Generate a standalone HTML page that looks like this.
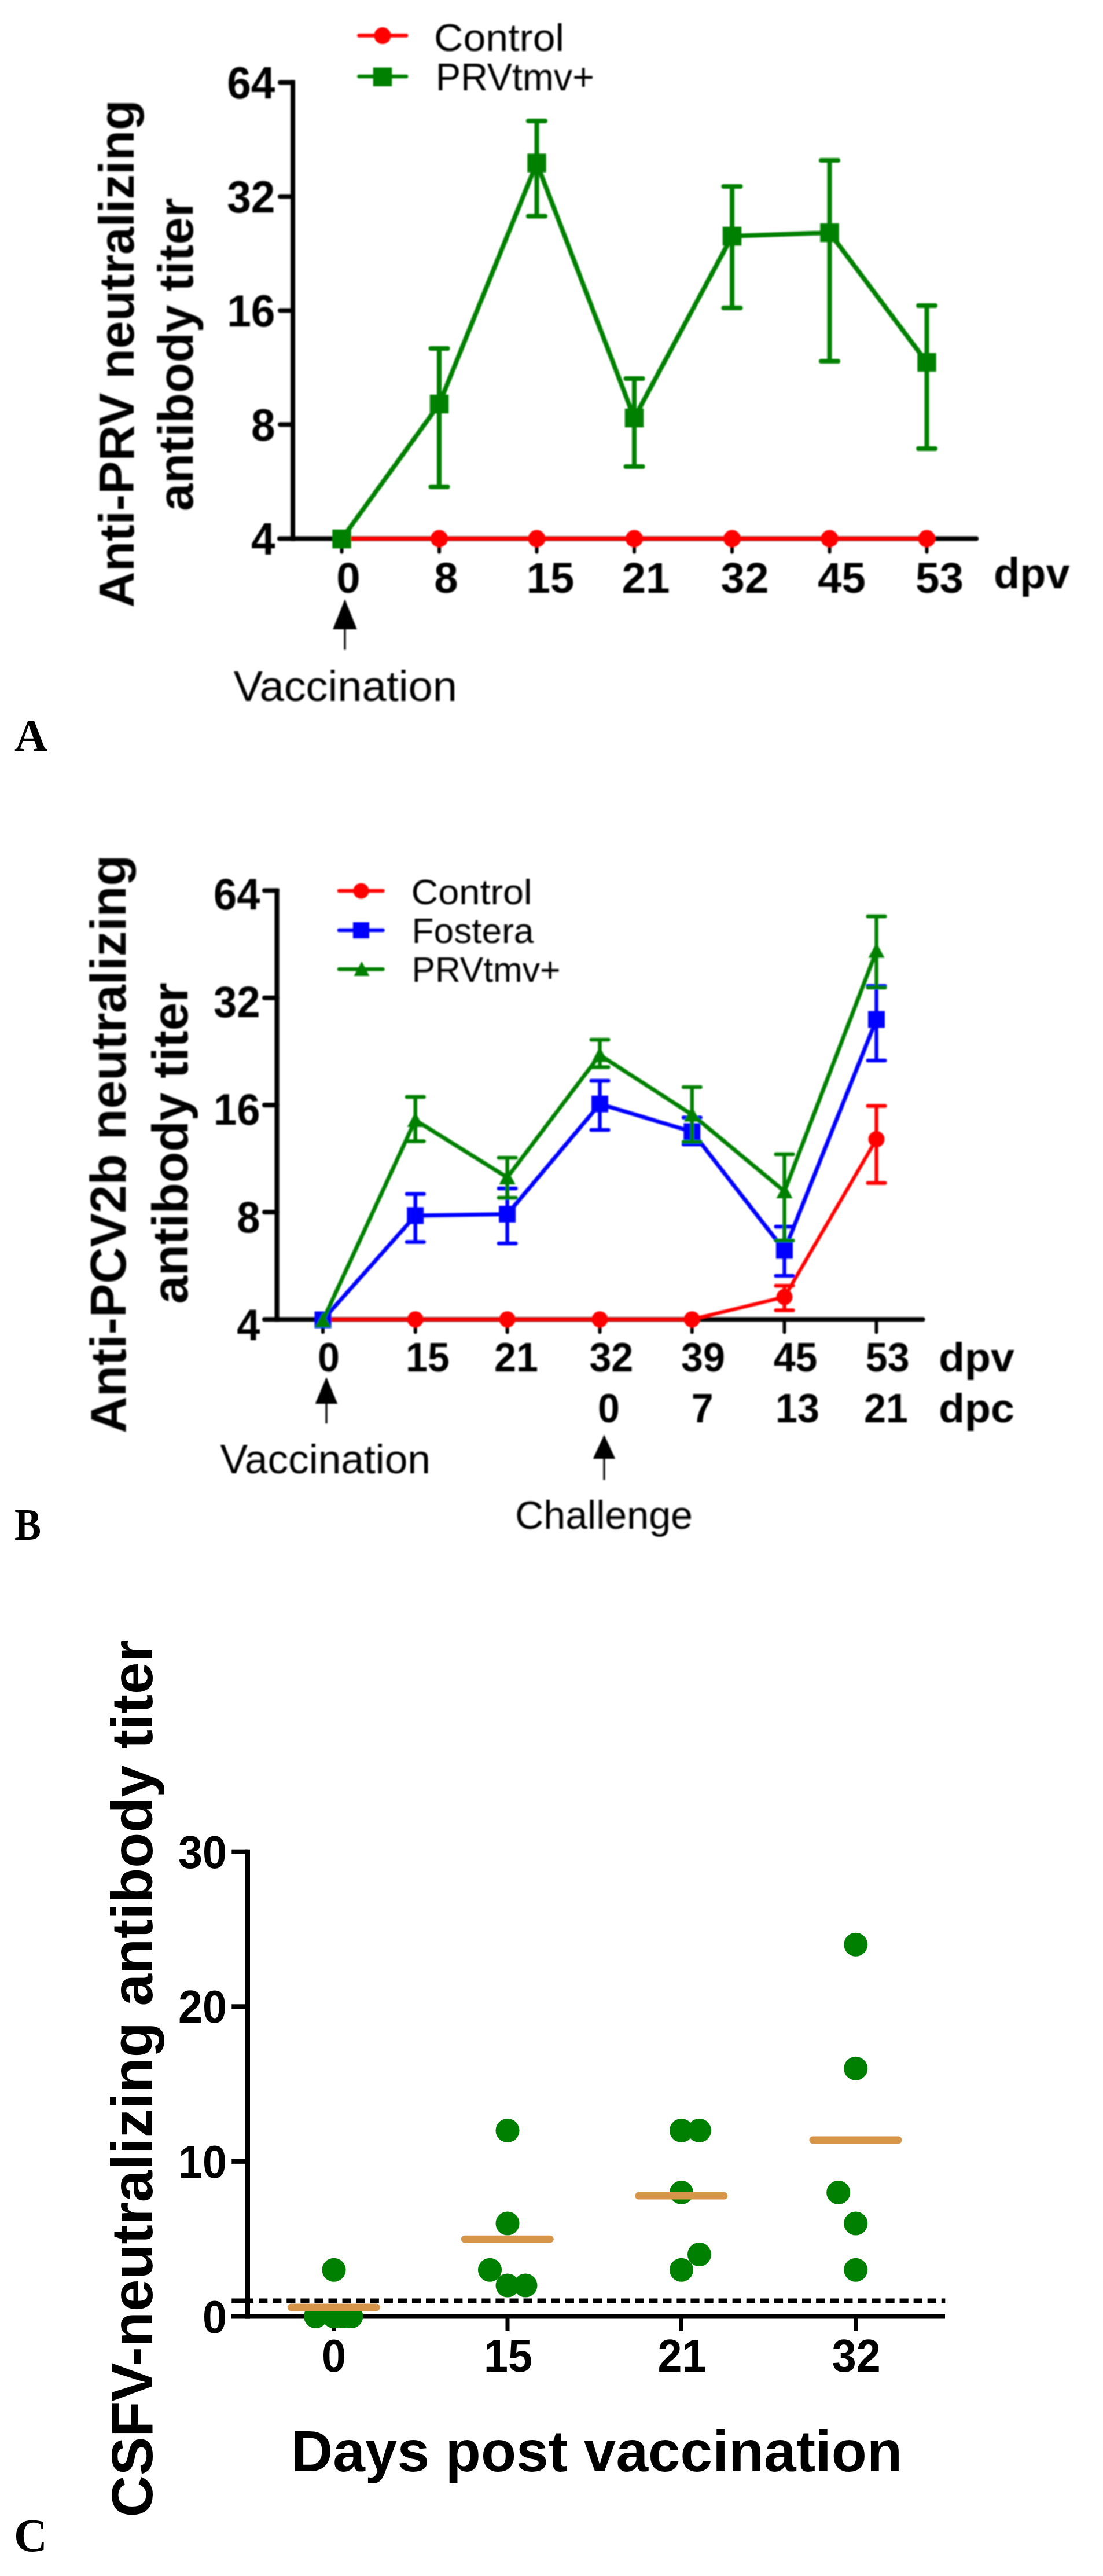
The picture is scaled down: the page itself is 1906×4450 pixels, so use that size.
<!DOCTYPE html>
<html><head><meta charset="utf-8"><title>Figure</title>
<style>html,body{margin:0;padding:0;background:#fff}svg{display:block}</style></head>
<body><svg width="1906" height="4450" viewBox="0 0 1906 4450">
<rect width="1906" height="4450" fill="#fff"/>
<defs><filter id="soft" x="-2%" y="-2%" width="104%" height="104%"><feGaussianBlur stdDeviation="0.9"/></filter><filter id="soft2" x="-2%" y="-2%" width="104%" height="104%"><feGaussianBlur stdDeviation="0.45"/></filter></defs>
<g filter="url(#soft)">
<line x1="506" y1="138.5" x2="506" y2="934.5" stroke="#000" stroke-width="8" stroke-linecap="butt"/>
<line x1="483" y1="930.5" x2="1687" y2="930.5" stroke="#000" stroke-width="8" stroke-linecap="round"/>
<line x1="484" y1="142.5" x2="506" y2="142.5" stroke="#000" stroke-width="8" stroke-linecap="round"/>
<line x1="484" y1="339.5" x2="506" y2="339.5" stroke="#000" stroke-width="8" stroke-linecap="round"/>
<line x1="484" y1="536.5" x2="506" y2="536.5" stroke="#000" stroke-width="8" stroke-linecap="round"/>
<line x1="484" y1="733.5" x2="506" y2="733.5" stroke="#000" stroke-width="8" stroke-linecap="round"/>
<text x="475.5" y="169.5" font-size="78" font-weight="bold" text-anchor="end" font-family="Liberation Sans, Arial, sans-serif" fill="#000" textLength="83.3" lengthAdjust="spacingAndGlyphs">64</text>
<text x="475.5" y="366.5" font-size="78" font-weight="bold" text-anchor="end" font-family="Liberation Sans, Arial, sans-serif" fill="#000" textLength="83.3" lengthAdjust="spacingAndGlyphs">32</text>
<text x="475.5" y="563.5" font-size="78" font-weight="bold" text-anchor="end" font-family="Liberation Sans, Arial, sans-serif" fill="#000" textLength="83.3" lengthAdjust="spacingAndGlyphs">16</text>
<text x="475.5" y="760.5" font-size="78" font-weight="bold" text-anchor="end" font-family="Liberation Sans, Arial, sans-serif" fill="#000" textLength="41.6" lengthAdjust="spacingAndGlyphs">8</text>
<text x="475.5" y="957.5" font-size="78" font-weight="bold" text-anchor="end" font-family="Liberation Sans, Arial, sans-serif" fill="#000" textLength="41.6" lengthAdjust="spacingAndGlyphs">4</text>
<line x1="590.5" y1="930.5" x2="590.5" y2="953.5" stroke="#000" stroke-width="6" stroke-linecap="round"/>
<line x1="759" y1="930.5" x2="759" y2="953.5" stroke="#000" stroke-width="6" stroke-linecap="round"/>
<line x1="927.5" y1="930.5" x2="927.5" y2="953.5" stroke="#000" stroke-width="6" stroke-linecap="round"/>
<line x1="1096" y1="930.5" x2="1096" y2="953.5" stroke="#000" stroke-width="6" stroke-linecap="round"/>
<line x1="1265" y1="930.5" x2="1265" y2="953.5" stroke="#000" stroke-width="6" stroke-linecap="round"/>
<line x1="1433.5" y1="930.5" x2="1433.5" y2="953.5" stroke="#000" stroke-width="6" stroke-linecap="round"/>
<line x1="1601.5" y1="930.5" x2="1601.5" y2="953.5" stroke="#000" stroke-width="6" stroke-linecap="round"/>
<text x="602" y="1024.3" font-size="74.5" font-weight="bold" text-anchor="middle" font-family="Liberation Sans, Arial, sans-serif" fill="#000" textLength="41.4" lengthAdjust="spacingAndGlyphs">0</text>
<text x="771" y="1024.3" font-size="74.5" font-weight="bold" text-anchor="middle" font-family="Liberation Sans, Arial, sans-serif" fill="#000" textLength="41.4" lengthAdjust="spacingAndGlyphs">8</text>
<text x="951" y="1024.3" font-size="74.5" font-weight="bold" text-anchor="middle" font-family="Liberation Sans, Arial, sans-serif" fill="#000" textLength="82.9" lengthAdjust="spacingAndGlyphs">15</text>
<text x="1116" y="1024.3" font-size="74.5" font-weight="bold" text-anchor="middle" font-family="Liberation Sans, Arial, sans-serif" fill="#000" textLength="82.9" lengthAdjust="spacingAndGlyphs">21</text>
<text x="1287" y="1024.3" font-size="74.5" font-weight="bold" text-anchor="middle" font-family="Liberation Sans, Arial, sans-serif" fill="#000" textLength="82.9" lengthAdjust="spacingAndGlyphs">32</text>
<text x="1454.5" y="1024.3" font-size="74.5" font-weight="bold" text-anchor="middle" font-family="Liberation Sans, Arial, sans-serif" fill="#000" textLength="82.9" lengthAdjust="spacingAndGlyphs">45</text>
<text x="1623.5" y="1024.3" font-size="74.5" font-weight="bold" text-anchor="middle" font-family="Liberation Sans, Arial, sans-serif" fill="#000" textLength="82.9" lengthAdjust="spacingAndGlyphs">53</text>
<text x="1717" y="1015.5" font-size="74" font-weight="bold" text-anchor="start" font-family="Liberation Sans, Arial, sans-serif" fill="#000">dpv</text>
<line x1="590.5" y1="930.5" x2="1601.5" y2="930.5" stroke="#ff0000" stroke-width="6.5" stroke-linecap="butt"/>
<circle cx="759" cy="930.5" r="15" fill="#ff0000"/>
<circle cx="927.5" cy="930.5" r="15" fill="#ff0000"/>
<circle cx="1096" cy="930.5" r="15" fill="#ff0000"/>
<circle cx="1265" cy="930.5" r="15" fill="#ff0000"/>
<circle cx="1433.5" cy="930.5" r="15" fill="#ff0000"/>
<circle cx="1601.5" cy="930.5" r="15" fill="#ff0000"/>
<polyline points="590.5,931 759,698 927.5,281.5 1096,722 1265,408 1433.5,402 1601.5,626" fill="none" stroke="#008000" stroke-width="8" stroke-linejoin="round"/>
<rect x="574.25" y="914.75" width="32.5" height="32.5" fill="#008000"/>
<line x1="759" y1="602" x2="759" y2="841" stroke="#008000" stroke-width="8" stroke-linecap="butt"/>
<line x1="744.5" y1="602" x2="773.5" y2="602" stroke="#008000" stroke-width="8" stroke-linecap="round"/>
<line x1="744.5" y1="841" x2="773.5" y2="841" stroke="#008000" stroke-width="8" stroke-linecap="round"/>
<rect x="742.75" y="681.75" width="32.5" height="32.5" fill="#008000"/>
<line x1="927.5" y1="209" x2="927.5" y2="373.5" stroke="#008000" stroke-width="8" stroke-linecap="butt"/>
<line x1="913.0" y1="209" x2="942.0" y2="209" stroke="#008000" stroke-width="8" stroke-linecap="round"/>
<line x1="913.0" y1="373.5" x2="942.0" y2="373.5" stroke="#008000" stroke-width="8" stroke-linecap="round"/>
<rect x="911.25" y="265.25" width="32.5" height="32.5" fill="#008000"/>
<line x1="1096" y1="654" x2="1096" y2="806" stroke="#008000" stroke-width="8" stroke-linecap="butt"/>
<line x1="1081.5" y1="654" x2="1110.5" y2="654" stroke="#008000" stroke-width="8" stroke-linecap="round"/>
<line x1="1081.5" y1="806" x2="1110.5" y2="806" stroke="#008000" stroke-width="8" stroke-linecap="round"/>
<rect x="1079.75" y="705.75" width="32.5" height="32.5" fill="#008000"/>
<line x1="1265" y1="322" x2="1265" y2="532" stroke="#008000" stroke-width="8" stroke-linecap="butt"/>
<line x1="1250.5" y1="322" x2="1279.5" y2="322" stroke="#008000" stroke-width="8" stroke-linecap="round"/>
<line x1="1250.5" y1="532" x2="1279.5" y2="532" stroke="#008000" stroke-width="8" stroke-linecap="round"/>
<rect x="1248.75" y="391.75" width="32.5" height="32.5" fill="#008000"/>
<line x1="1433.5" y1="277" x2="1433.5" y2="624" stroke="#008000" stroke-width="8" stroke-linecap="butt"/>
<line x1="1419.0" y1="277" x2="1448.0" y2="277" stroke="#008000" stroke-width="8" stroke-linecap="round"/>
<line x1="1419.0" y1="624" x2="1448.0" y2="624" stroke="#008000" stroke-width="8" stroke-linecap="round"/>
<rect x="1417.25" y="385.75" width="32.5" height="32.5" fill="#008000"/>
<line x1="1601.5" y1="528" x2="1601.5" y2="775" stroke="#008000" stroke-width="8" stroke-linecap="butt"/>
<line x1="1587.0" y1="528" x2="1616.0" y2="528" stroke="#008000" stroke-width="8" stroke-linecap="round"/>
<line x1="1587.0" y1="775" x2="1616.0" y2="775" stroke="#008000" stroke-width="8" stroke-linecap="round"/>
<rect x="1585.25" y="609.75" width="32.5" height="32.5" fill="#008000"/>
<line x1="620.5" y1="61.5" x2="702" y2="61.5" stroke="#ff0000" stroke-width="6.5" stroke-linecap="round"/>
<circle cx="661" cy="61.5" r="14.5" fill="#ff0000"/>
<text x="750" y="88" font-size="67" font-weight="normal" text-anchor="start" font-family="Liberation Sans, Arial, sans-serif" fill="#000" textLength="225" lengthAdjust="spacingAndGlyphs">Control</text>
<line x1="620.5" y1="132" x2="702" y2="132" stroke="#008000" stroke-width="6.5" stroke-linecap="round"/>
<rect x="644.75" y="116.55000000000001" width="32.5" height="32.5" fill="#008000"/>
<text x="753" y="155.5" font-size="67.5" font-weight="normal" text-anchor="start" font-family="Liberation Sans, Arial, sans-serif" fill="#000" textLength="274" lengthAdjust="spacingAndGlyphs">PRVtmv+</text>
<polygon points="596,1035 575.25,1087 616.75,1087" fill="#000"/>
<line x1="596" y1="1086" x2="596" y2="1122.5" stroke="#000" stroke-width="3.2" stroke-linecap="butt"/>
<text x="403.5" y="1211" font-size="73.5" font-weight="normal" text-anchor="start" font-family="Liberation Sans, Arial, sans-serif" fill="#000" textLength="386.5" lengthAdjust="spacingAndGlyphs">Vaccination</text>
<text x="231" y="611" font-size="85" font-weight="bold" text-anchor="middle" font-family="Liberation Sans, Arial, sans-serif" fill="#000" textLength="877" lengthAdjust="spacingAndGlyphs" transform="rotate(-90 231 611)">Anti-PRV neutralizing</text>
<text x="333.5" y="612.3" font-size="85" font-weight="bold" text-anchor="middle" font-family="Liberation Sans, Arial, sans-serif" fill="#000" textLength="541" lengthAdjust="spacingAndGlyphs" transform="rotate(-90 333.5 612.3)">antibody titer</text>
</g>
<g filter="url(#soft)">
<line x1="478.5" y1="1534.8" x2="478.5" y2="2283.3" stroke="#000" stroke-width="8" stroke-linecap="butt"/>
<line x1="457" y1="2279.3" x2="1594.5" y2="2279.3" stroke="#000" stroke-width="8" stroke-linecap="round"/>
<line x1="457" y1="1538.5" x2="478.5" y2="1538.5" stroke="#000" stroke-width="8" stroke-linecap="round"/>
<line x1="457" y1="1723.7" x2="478.5" y2="1723.7" stroke="#000" stroke-width="8" stroke-linecap="round"/>
<line x1="457" y1="1908.9" x2="478.5" y2="1908.9" stroke="#000" stroke-width="8" stroke-linecap="round"/>
<line x1="457" y1="2094" x2="478.5" y2="2094" stroke="#000" stroke-width="8" stroke-linecap="round"/>
<text x="449.5" y="1570.8" font-size="76.5" font-weight="bold" text-anchor="end" font-family="Liberation Sans, Arial, sans-serif" fill="#000" textLength="80.4" lengthAdjust="spacingAndGlyphs">64</text>
<text x="449.5" y="1756.73" font-size="76.5" font-weight="bold" text-anchor="end" font-family="Liberation Sans, Arial, sans-serif" fill="#000" textLength="80.4" lengthAdjust="spacingAndGlyphs">32</text>
<text x="449.5" y="1942.66" font-size="76.5" font-weight="bold" text-anchor="end" font-family="Liberation Sans, Arial, sans-serif" fill="#000" textLength="80.4" lengthAdjust="spacingAndGlyphs">16</text>
<text x="449.5" y="2128.59" font-size="76.5" font-weight="bold" text-anchor="end" font-family="Liberation Sans, Arial, sans-serif" fill="#000" textLength="40.2" lengthAdjust="spacingAndGlyphs">8</text>
<text x="449.5" y="2314.5200000000004" font-size="76.5" font-weight="bold" text-anchor="end" font-family="Liberation Sans, Arial, sans-serif" fill="#000" textLength="40.2" lengthAdjust="spacingAndGlyphs">4</text>
<line x1="558" y1="2279.3" x2="558" y2="2301.3" stroke="#000" stroke-width="6" stroke-linecap="round"/>
<line x1="717.7" y1="2279.3" x2="717.7" y2="2301.3" stroke="#000" stroke-width="6" stroke-linecap="round"/>
<line x1="876.6" y1="2279.3" x2="876.6" y2="2301.3" stroke="#000" stroke-width="6" stroke-linecap="round"/>
<line x1="1036.5" y1="2279.3" x2="1036.5" y2="2301.3" stroke="#000" stroke-width="6" stroke-linecap="round"/>
<line x1="1195.8" y1="2279.3" x2="1195.8" y2="2301.3" stroke="#000" stroke-width="6" stroke-linecap="round"/>
<line x1="1355.5" y1="2279.3" x2="1355.5" y2="2301.3" stroke="#000" stroke-width="6" stroke-linecap="round"/>
<line x1="1514.5" y1="2279.3" x2="1514.5" y2="2301.3" stroke="#000" stroke-width="6" stroke-linecap="round"/>
<text x="568" y="2369" font-size="71" font-weight="bold" text-anchor="middle" font-family="Liberation Sans, Arial, sans-serif" fill="#000" textLength="37.9" lengthAdjust="spacingAndGlyphs">0</text>
<text x="739" y="2369" font-size="71" font-weight="bold" text-anchor="middle" font-family="Liberation Sans, Arial, sans-serif" fill="#000" textLength="75.8" lengthAdjust="spacingAndGlyphs">15</text>
<text x="892" y="2369" font-size="71" font-weight="bold" text-anchor="middle" font-family="Liberation Sans, Arial, sans-serif" fill="#000" textLength="75.8" lengthAdjust="spacingAndGlyphs">21</text>
<text x="1056.3" y="2369" font-size="71" font-weight="bold" text-anchor="middle" font-family="Liberation Sans, Arial, sans-serif" fill="#000" textLength="75.8" lengthAdjust="spacingAndGlyphs">32</text>
<text x="1215" y="2369" font-size="71" font-weight="bold" text-anchor="middle" font-family="Liberation Sans, Arial, sans-serif" fill="#000" textLength="75.8" lengthAdjust="spacingAndGlyphs">39</text>
<text x="1374.6" y="2369" font-size="71" font-weight="bold" text-anchor="middle" font-family="Liberation Sans, Arial, sans-serif" fill="#000" textLength="75.8" lengthAdjust="spacingAndGlyphs">45</text>
<text x="1533.7" y="2369" font-size="71" font-weight="bold" text-anchor="middle" font-family="Liberation Sans, Arial, sans-serif" fill="#000" textLength="75.8" lengthAdjust="spacingAndGlyphs">53</text>
<text x="1052" y="2456.5" font-size="71" font-weight="bold" text-anchor="middle" font-family="Liberation Sans, Arial, sans-serif" fill="#000" textLength="37.9" lengthAdjust="spacingAndGlyphs">0</text>
<text x="1213.7" y="2456.5" font-size="71" font-weight="bold" text-anchor="middle" font-family="Liberation Sans, Arial, sans-serif" fill="#000" textLength="37.9" lengthAdjust="spacingAndGlyphs">7</text>
<text x="1378" y="2456.5" font-size="71" font-weight="bold" text-anchor="middle" font-family="Liberation Sans, Arial, sans-serif" fill="#000" textLength="75.8" lengthAdjust="spacingAndGlyphs">13</text>
<text x="1531" y="2456.5" font-size="71" font-weight="bold" text-anchor="middle" font-family="Liberation Sans, Arial, sans-serif" fill="#000" textLength="75.8" lengthAdjust="spacingAndGlyphs">21</text>
<text x="1622" y="2369" font-size="70" font-weight="bold" text-anchor="start" font-family="Liberation Sans, Arial, sans-serif" fill="#000" textLength="131" lengthAdjust="spacingAndGlyphs">dpv</text>
<text x="1622" y="2456.5" font-size="70" font-weight="bold" text-anchor="start" font-family="Liberation Sans, Arial, sans-serif" fill="#000" textLength="131" lengthAdjust="spacingAndGlyphs">dpc</text>
<polyline points="558,2279.3 717.7,2279.3 876.6,2279.3 1036.5,2279.3 1195.8,2279.3 1355.5,2240.6 1514.5,1968" fill="none" stroke="#ff0000" stroke-width="6.2" stroke-linejoin="round"/>
<line x1="1355.5" y1="2221" x2="1355.5" y2="2263.5" stroke="#ff0000" stroke-width="6.5" stroke-linecap="butt"/>
<line x1="1340.75" y1="2221" x2="1370.25" y2="2221" stroke="#ff0000" stroke-width="6.5" stroke-linecap="round"/>
<line x1="1340.75" y1="2263.5" x2="1370.25" y2="2263.5" stroke="#ff0000" stroke-width="6.5" stroke-linecap="round"/>
<line x1="1514.5" y1="1910.5" x2="1514.5" y2="2043.5" stroke="#ff0000" stroke-width="6.5" stroke-linecap="butt"/>
<line x1="1499.75" y1="1910.5" x2="1529.25" y2="1910.5" stroke="#ff0000" stroke-width="6.5" stroke-linecap="round"/>
<line x1="1499.75" y1="2043.5" x2="1529.25" y2="2043.5" stroke="#ff0000" stroke-width="6.5" stroke-linecap="round"/>
<circle cx="717.7" cy="2279.3" r="14" fill="#ff0000"/>
<circle cx="876.6" cy="2279.3" r="14" fill="#ff0000"/>
<circle cx="1036.5" cy="2279.3" r="14" fill="#ff0000"/>
<circle cx="1195.8" cy="2279.3" r="14" fill="#ff0000"/>
<circle cx="1355.5" cy="2240.6" r="14" fill="#ff0000"/>
<circle cx="1514.5" cy="1968" r="14" fill="#ff0000"/>
<polyline points="558,2280 717.7,2100 876.6,2097.5 1036.5,1907.2 1195.8,1955 1355.5,2160 1514.5,1761" fill="none" stroke="#0000ff" stroke-width="7" stroke-linejoin="round"/>
<rect x="543.5" y="2265.5" width="29" height="29" fill="#0000ff"/>
<line x1="717.7" y1="2062.5" x2="717.7" y2="2145.5" stroke="#0000ff" stroke-width="6.5" stroke-linecap="butt"/>
<line x1="702.95" y1="2062.5" x2="732.45" y2="2062.5" stroke="#0000ff" stroke-width="6.5" stroke-linecap="round"/>
<line x1="702.95" y1="2145.5" x2="732.45" y2="2145.5" stroke="#0000ff" stroke-width="6.5" stroke-linecap="round"/>
<rect x="703.2" y="2085.5" width="29" height="29" fill="#0000ff"/>
<line x1="876.6" y1="2053" x2="876.6" y2="2148" stroke="#0000ff" stroke-width="6.5" stroke-linecap="butt"/>
<line x1="861.85" y1="2053" x2="891.35" y2="2053" stroke="#0000ff" stroke-width="6.5" stroke-linecap="round"/>
<line x1="861.85" y1="2148" x2="891.35" y2="2148" stroke="#0000ff" stroke-width="6.5" stroke-linecap="round"/>
<rect x="862.1" y="2083.0" width="29" height="29" fill="#0000ff"/>
<line x1="1036.5" y1="1867" x2="1036.5" y2="1952" stroke="#0000ff" stroke-width="6.5" stroke-linecap="butt"/>
<line x1="1021.75" y1="1867" x2="1051.25" y2="1867" stroke="#0000ff" stroke-width="6.5" stroke-linecap="round"/>
<line x1="1021.75" y1="1952" x2="1051.25" y2="1952" stroke="#0000ff" stroke-width="6.5" stroke-linecap="round"/>
<rect x="1022.0" y="1892.7" width="29" height="29" fill="#0000ff"/>
<line x1="1195.8" y1="1930.5" x2="1195.8" y2="1977" stroke="#0000ff" stroke-width="6.5" stroke-linecap="butt"/>
<line x1="1181.05" y1="1930.5" x2="1210.55" y2="1930.5" stroke="#0000ff" stroke-width="6.5" stroke-linecap="round"/>
<line x1="1181.05" y1="1977" x2="1210.55" y2="1977" stroke="#0000ff" stroke-width="6.5" stroke-linecap="round"/>
<rect x="1181.3" y="1940.5" width="29" height="29" fill="#0000ff"/>
<line x1="1355.5" y1="2119" x2="1355.5" y2="2204" stroke="#0000ff" stroke-width="6.5" stroke-linecap="butt"/>
<line x1="1340.75" y1="2119" x2="1370.25" y2="2119" stroke="#0000ff" stroke-width="6.5" stroke-linecap="round"/>
<line x1="1340.75" y1="2204" x2="1370.25" y2="2204" stroke="#0000ff" stroke-width="6.5" stroke-linecap="round"/>
<rect x="1341.0" y="2145.5" width="29" height="29" fill="#0000ff"/>
<line x1="1514.5" y1="1703" x2="1514.5" y2="1832" stroke="#0000ff" stroke-width="6.5" stroke-linecap="butt"/>
<line x1="1499.75" y1="1703" x2="1529.25" y2="1703" stroke="#0000ff" stroke-width="6.5" stroke-linecap="round"/>
<line x1="1499.75" y1="1832" x2="1529.25" y2="1832" stroke="#0000ff" stroke-width="6.5" stroke-linecap="round"/>
<rect x="1500.0" y="1746.5" width="29" height="29" fill="#0000ff"/>
<polyline points="558,2281 717.7,1935 876.6,2034 1036.5,1822.5 1195.8,1925.5 1355.5,2058 1514.5,1642.5" fill="none" stroke="#008000" stroke-width="7" stroke-linejoin="round"/>
<polygon points="558,2267.0 544.0,2293.04 572.0,2293.04" fill="#008000"/>
<line x1="717.7" y1="1895" x2="717.7" y2="1971.5" stroke="#008000" stroke-width="6.5" stroke-linecap="butt"/>
<line x1="702.95" y1="1895" x2="732.45" y2="1895" stroke="#008000" stroke-width="6.5" stroke-linecap="round"/>
<line x1="702.95" y1="1971.5" x2="732.45" y2="1971.5" stroke="#008000" stroke-width="6.5" stroke-linecap="round"/>
<polygon points="717.7,1921.0 703.7,1947.04 731.7,1947.04" fill="#008000"/>
<line x1="876.6" y1="2000" x2="876.6" y2="2069" stroke="#008000" stroke-width="6.5" stroke-linecap="butt"/>
<line x1="861.85" y1="2000" x2="891.35" y2="2000" stroke="#008000" stroke-width="6.5" stroke-linecap="round"/>
<line x1="861.85" y1="2069" x2="891.35" y2="2069" stroke="#008000" stroke-width="6.5" stroke-linecap="round"/>
<polygon points="876.6,2020.0 862.6,2046.04 890.6,2046.04" fill="#008000"/>
<line x1="1036.5" y1="1796" x2="1036.5" y2="1843.5" stroke="#008000" stroke-width="6.5" stroke-linecap="butt"/>
<line x1="1021.75" y1="1796" x2="1051.25" y2="1796" stroke="#008000" stroke-width="6.5" stroke-linecap="round"/>
<line x1="1021.75" y1="1843.5" x2="1051.25" y2="1843.5" stroke="#008000" stroke-width="6.5" stroke-linecap="round"/>
<polygon points="1036.5,1808.5 1022.5,1834.54 1050.5,1834.54" fill="#008000"/>
<line x1="1195.8" y1="1878" x2="1195.8" y2="1972.5" stroke="#008000" stroke-width="6.5" stroke-linecap="butt"/>
<line x1="1181.05" y1="1878" x2="1210.55" y2="1878" stroke="#008000" stroke-width="6.5" stroke-linecap="round"/>
<line x1="1181.05" y1="1972.5" x2="1210.55" y2="1972.5" stroke="#008000" stroke-width="6.5" stroke-linecap="round"/>
<polygon points="1195.8,1911.5 1181.8,1937.54 1209.8,1937.54" fill="#008000"/>
<line x1="1355.5" y1="1994" x2="1355.5" y2="2143" stroke="#008000" stroke-width="6.5" stroke-linecap="butt"/>
<line x1="1340.75" y1="1994" x2="1370.25" y2="1994" stroke="#008000" stroke-width="6.5" stroke-linecap="round"/>
<line x1="1340.75" y1="2143" x2="1370.25" y2="2143" stroke="#008000" stroke-width="6.5" stroke-linecap="round"/>
<polygon points="1355.5,2044.0 1341.5,2070.04 1369.5,2070.04" fill="#008000"/>
<line x1="1514.5" y1="1583" x2="1514.5" y2="1706" stroke="#008000" stroke-width="6.5" stroke-linecap="butt"/>
<line x1="1499.75" y1="1583" x2="1529.25" y2="1583" stroke="#008000" stroke-width="6.5" stroke-linecap="round"/>
<line x1="1499.75" y1="1706" x2="1529.25" y2="1706" stroke="#008000" stroke-width="6.5" stroke-linecap="round"/>
<polygon points="1514.5,1628.5 1500.5,1654.54 1528.5,1654.54" fill="#008000"/>
<line x1="586" y1="1539" x2="661.5" y2="1539" stroke="#ff0000" stroke-width="6.5" stroke-linecap="round"/>
<line x1="586" y1="1607" x2="661.5" y2="1607" stroke="#0000ff" stroke-width="6.5" stroke-linecap="round"/>
<line x1="586" y1="1674.3" x2="661.5" y2="1674.3" stroke="#008000" stroke-width="6.5" stroke-linecap="round"/>
<circle cx="624" cy="1539" r="13.5" fill="#ff0000"/>
<rect x="610.0" y="1593.0" width="28" height="28" fill="#0000ff"/>
<polygon points="625,1660.8 611.5,1685.9099999999999 638.5,1685.9099999999999" fill="#008000"/>
<text x="710.5" y="1562" font-size="61" font-weight="normal" text-anchor="start" font-family="Liberation Sans, Arial, sans-serif" fill="#000" textLength="209" lengthAdjust="spacingAndGlyphs">Control</text>
<text x="711.5" y="1629" font-size="61" font-weight="normal" text-anchor="start" font-family="Liberation Sans, Arial, sans-serif" fill="#000" textLength="211" lengthAdjust="spacingAndGlyphs">Fostera</text>
<text x="711.5" y="1696" font-size="61" font-weight="normal" text-anchor="start" font-family="Liberation Sans, Arial, sans-serif" fill="#000" textLength="257" lengthAdjust="spacingAndGlyphs">PRVtmv+</text>
<polygon points="564,2379 544.75,2425 583.25,2425" fill="#000"/>
<line x1="564" y1="2424" x2="564" y2="2459" stroke="#000" stroke-width="3.2" stroke-linecap="butt"/>
<text x="380.5" y="2544.5" font-size="69.5" font-weight="normal" text-anchor="start" font-family="Liberation Sans, Arial, sans-serif" fill="#000" textLength="363.5" lengthAdjust="spacingAndGlyphs">Vaccination</text>
<polygon points="1044,2478.5 1024.75,2520 1063.25,2520" fill="#000"/>
<line x1="1044" y1="2519" x2="1044" y2="2556.5" stroke="#000" stroke-width="3.2" stroke-linecap="butt"/>
<text x="890" y="2640.5" font-size="69" font-weight="normal" text-anchor="start" font-family="Liberation Sans, Arial, sans-serif" fill="#000" textLength="307" lengthAdjust="spacingAndGlyphs">Challenge</text>
<text x="217.5" y="1976.4" font-size="88" font-weight="bold" text-anchor="middle" font-family="Liberation Sans, Arial, sans-serif" fill="#000" textLength="999" lengthAdjust="spacingAndGlyphs" transform="rotate(-90 217.5 1976.4)">Anti-PCV2b neutralizing</text>
<text x="324" y="1975" font-size="88" font-weight="bold" text-anchor="middle" font-family="Liberation Sans, Arial, sans-serif" fill="#000" textLength="555" lengthAdjust="spacingAndGlyphs" transform="rotate(-90 324 1975)">antibody titer</text>
</g>
<g filter="url(#soft2)">
<line x1="428" y1="3194.7" x2="428" y2="4005.5" stroke="#000" stroke-width="8" stroke-linecap="butt"/>
<line x1="400" y1="4001.5" x2="1633" y2="4001.5" stroke="#000" stroke-width="8" stroke-linecap="butt"/>
<line x1="400.3" y1="3733.9" x2="428" y2="3733.9" stroke="#000" stroke-width="8" stroke-linecap="butt"/>
<line x1="400.3" y1="3466.3" x2="428" y2="3466.3" stroke="#000" stroke-width="8" stroke-linecap="butt"/>
<line x1="400.3" y1="3198.7" x2="428" y2="3198.7" stroke="#000" stroke-width="8" stroke-linecap="butt"/>
<text x="392" y="4029.5" font-size="79" font-weight="bold" text-anchor="end" font-family="Liberation Sans, Arial, sans-serif" fill="#000" textLength="42.0" lengthAdjust="spacingAndGlyphs">0</text>
<text x="392" y="3761.9" font-size="79" font-weight="bold" text-anchor="end" font-family="Liberation Sans, Arial, sans-serif" fill="#000" textLength="83.9" lengthAdjust="spacingAndGlyphs">10</text>
<text x="392" y="3494.3" font-size="79" font-weight="bold" text-anchor="end" font-family="Liberation Sans, Arial, sans-serif" fill="#000" textLength="83.9" lengthAdjust="spacingAndGlyphs">20</text>
<text x="392" y="3226.7" font-size="79" font-weight="bold" text-anchor="end" font-family="Liberation Sans, Arial, sans-serif" fill="#000" textLength="83.9" lengthAdjust="spacingAndGlyphs">30</text>
<line x1="577" y1="4001.5" x2="577" y2="4027.0" stroke="#000" stroke-width="7" stroke-linecap="butt"/>
<line x1="877" y1="4001.5" x2="877" y2="4027.0" stroke="#000" stroke-width="7" stroke-linecap="butt"/>
<line x1="1177.5" y1="4001.5" x2="1177.5" y2="4027.0" stroke="#000" stroke-width="7" stroke-linecap="butt"/>
<line x1="1478.7" y1="4001.5" x2="1478.7" y2="4027.0" stroke="#000" stroke-width="7" stroke-linecap="butt"/>
<line x1="447.1" y1="3974.2" x2="1633.3" y2="3974.2" stroke="#000" stroke-width="7.5" stroke-dasharray="15.2 8.875"/>
<line x1="400.3" y1="3974.2" x2="438" y2="3974.2" stroke="#000" stroke-width="7.5" stroke-linecap="butt"/>
<circle cx="577" cy="3921.22" r="20.5" fill="#008000"/>
<circle cx="545.5" cy="4001.5" r="20.5" fill="#008000"/>
<circle cx="577" cy="4001.5" r="20.5" fill="#008000"/>
<circle cx="592" cy="4001.5" r="20.5" fill="#008000"/>
<circle cx="607" cy="4001.5" r="20.5" fill="#008000"/>
<circle cx="877" cy="3680.38" r="20.5" fill="#008000"/>
<circle cx="877" cy="3840.94" r="20.5" fill="#008000"/>
<circle cx="846.5" cy="3921.22" r="20.5" fill="#008000"/>
<circle cx="877" cy="3947.98" r="20.5" fill="#008000"/>
<circle cx="908" cy="3947.98" r="20.5" fill="#008000"/>
<circle cx="1177.5" cy="3680.38" r="20.5" fill="#008000"/>
<circle cx="1208.5" cy="3680.38" r="20.5" fill="#008000"/>
<circle cx="1177.5" cy="3787.42" r="20.5" fill="#008000"/>
<circle cx="1208.5" cy="3894.46" r="20.5" fill="#008000"/>
<circle cx="1177.5" cy="3921.22" r="20.5" fill="#008000"/>
<circle cx="1478.7" cy="3359.26" r="20.5" fill="#008000"/>
<circle cx="1478.7" cy="3573.34" r="20.5" fill="#008000"/>
<circle cx="1448.7" cy="3787.42" r="20.5" fill="#008000"/>
<circle cx="1478.7" cy="3840.94" r="20.5" fill="#008000"/>
<circle cx="1478.7" cy="3921.22" r="20.5" fill="#008000"/>
<line x1="503" y1="3985.844" x2="650.5" y2="3985.844" stroke="#d69548" stroke-width="12.6" stroke-linecap="round"/>
<line x1="803" y1="3868.1" x2="950.5" y2="3868.1" stroke="#d69548" stroke-width="12.6" stroke-linecap="round"/>
<line x1="1103.5" y1="3793.172" x2="1251.0" y2="3793.172" stroke="#d69548" stroke-width="12.6" stroke-linecap="round"/>
<line x1="1404.7" y1="3696.8360000000002" x2="1552.2" y2="3696.8360000000002" stroke="#d69548" stroke-width="12.6" stroke-linecap="round"/>
<text x="577" y="4096.8" font-size="79" font-weight="bold" text-anchor="middle" font-family="Liberation Sans, Arial, sans-serif" fill="#000" textLength="42.0" lengthAdjust="spacingAndGlyphs">0</text>
<text x="878" y="4096.8" font-size="79" font-weight="bold" text-anchor="middle" font-family="Liberation Sans, Arial, sans-serif" fill="#000" textLength="83.9" lengthAdjust="spacingAndGlyphs">15</text>
<text x="1178.5" y="4096.8" font-size="79" font-weight="bold" text-anchor="middle" font-family="Liberation Sans, Arial, sans-serif" fill="#000" textLength="83.9" lengthAdjust="spacingAndGlyphs">21</text>
<text x="1479.7" y="4096.8" font-size="79" font-weight="bold" text-anchor="middle" font-family="Liberation Sans, Arial, sans-serif" fill="#000" textLength="83.9" lengthAdjust="spacingAndGlyphs">32</text>
<text x="503" y="4268.5" font-size="101" font-weight="bold" text-anchor="start" font-family="Liberation Sans, Arial, sans-serif" fill="#000" textLength="1056" lengthAdjust="spacingAndGlyphs">Days post vaccination</text>
<text x="262.5" y="3590.5" font-size="101" font-weight="bold" text-anchor="middle" font-family="Liberation Sans, Arial, sans-serif" fill="#000" textLength="1516" lengthAdjust="spacingAndGlyphs" transform="rotate(-90 262.5 3590.5)">CSFV-neutralizing antibody titer</text>
</g>
<text x="25" y="1296.5" font-size="79" font-weight="bold" text-anchor="start" font-family="Liberation Serif, DejaVu Serif, serif" fill="#000">A</text>
<text x="25" y="2660" font-size="78.5" font-weight="bold" text-anchor="start" font-family="Liberation Serif, DejaVu Serif, serif" fill="#000" textLength="46" lengthAdjust="spacingAndGlyphs">B</text>
<text x="24" y="4407" font-size="80" font-weight="bold" text-anchor="start" font-family="Liberation Serif, DejaVu Serif, serif" fill="#000">C</text>
</svg></body></html>
